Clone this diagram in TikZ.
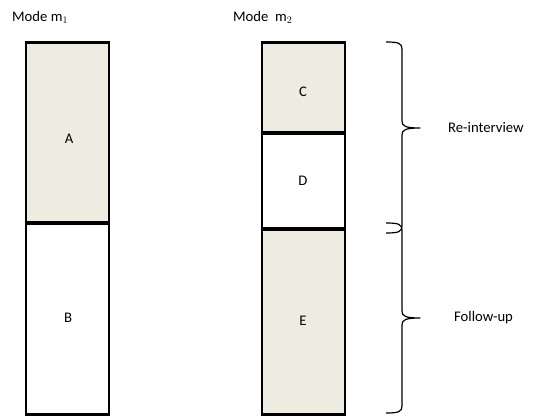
\documentclass[tikz,border=0pt]{standalone}
\usepackage{fontspec}
\setmainfont{Carlito}
\definecolor{shade}{HTML}{EEECE1}
\begin{document}
\begin{tikzpicture}[x=1pt,y=-1pt,
  font=\fontsize{14.67}{17}\selectfont,
  cell/.style={draw=black,line width=2.8pt,minimum width=83pt,inner sep=0pt,anchor=north},
  shaded/.style={cell,fill=shade},
  plain/.style={cell,fill=white},
  bracepath/.style={draw=black,line width=1.2pt,line join=round},
  txt/.style={inner sep=0pt}]
\useasboundingbox (0,0) rectangle (546,417);

% mode m1 column
\node[shaded,minimum height=180pt] (A) at (67.5,41) {};
\node[plain,minimum height=192pt] (B) at (67.5,221) {};
% mode m2 column
\node[shaded,minimum height=90pt] (C) at (303.5,41) {};
\node[plain,minimum height=96pt] (D) at (303.5,131) {};
\node[shaded,minimum height=186pt] (E) at (303.5,227) {};
\draw[line width=2.8pt] (A.south west) -- (A.south east);
\draw[line width=2.8pt] (C.south west) -- (C.south east);
\draw[line width=2.8pt] (D.south west) -- (D.south east);

% cell letters
\node[txt] (tA) at (69,139) {A};
\node[txt] (tB) at (68,318) {B};
\node[txt] (tC) at (303,92) {C};
\node[txt] (tD) at (303,181) {D};
\node[txt] (tE) at (303,321) {E};

% headings
\node[txt,anchor=west] (h1) at (12,17) {Mode $\mathrm{m}_1$};
\node[txt,anchor=west] (h2) at (233,17) {Mode\ \ $\mathrm{m}_2$};

% braces
\coordinate (r1) at (420,128);
\coordinate (r2) at (420,318);
\draw[bracepath] (386,42) .. controls (398,42) and (402,43) .. (402,49)
  -- (402,121) .. controls (402,126) and (405,128) .. (r1)
  .. controls (405,128) and (402,130) .. (402,135)
  -- (402,226) .. controls (402,232) and (398,233) .. (386,233);
\draw[bracepath] (386,223) .. controls (398,223) and (402,224) .. (402,230)
  -- (402,311) .. controls (402,316) and (405,318) .. (r2)
  .. controls (405,318) and (402,320) .. (402,325)
  -- (402,406) .. controls (402,412) and (398,413) .. (386,413);

\node[txt,anchor=west] (re) at (448,128) {Re-interview};
\node[txt,anchor=west] (fu) at (454,318) {Follow-up};
\end{tikzpicture}
\end{document}
